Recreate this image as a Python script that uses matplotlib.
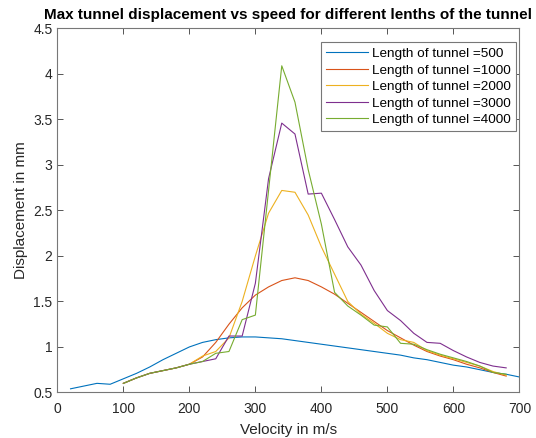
import matplotlib
matplotlib.use('Agg')
import matplotlib.pyplot as plt

plt.rcParams['font.family'] = ['Liberation Sans', 'DejaVu Sans']

# speed for the 500 m tunnel (m/s)
speed_500 = [20, 40, 60, 80, 100, 120, 140, 160, 180, 200, 220, 240, 260, 280, 300,
             320, 340, 360, 380, 400, 420, 440, 460, 480, 500, 520, 540, 560, 580, 600,
             620, 640, 660, 680, 700]
disp_500 = [0.54, 0.57, 0.60, 0.59, 0.65, 0.71, 0.78, 0.86, 0.93, 1.00, 1.05, 1.08, 1.10, 1.11, 1.11,
            1.10, 1.09, 1.07, 1.05, 1.03, 1.01, 0.99, 0.97, 0.95, 0.93, 0.91, 0.88, 0.86, 0.83, 0.80,
            0.78, 0.75, 0.72, 0.70, 0.67]

# speed for the longer tunnels (m/s)
speed = [100, 120, 140, 160, 180, 200, 220, 240, 260, 280, 300, 320, 340, 360, 380,
         400, 420, 440, 460, 480, 500, 520, 540, 560, 580, 600, 620, 640, 660, 680]
disp_1000 = [0.60, 0.66, 0.71, 0.74, 0.77, 0.81, 0.89, 1.05, 1.25, 1.43, 1.57, 1.66, 1.73, 1.76, 1.73,
             1.66, 1.58, 1.48, 1.38, 1.28, 1.18, 1.10, 1.02, 0.95, 0.90, 0.86, 0.81, 0.77, 0.72, 0.68]
disp_2000 = [0.60, 0.66, 0.71, 0.74, 0.77, 0.81, 0.90, 0.95, 1.10, 1.50, 2.00, 2.47, 2.72, 2.70, 2.45,
             2.10, 1.80, 1.50, 1.36, 1.26, 1.15, 1.08, 1.05, 0.96, 0.91, 0.87, 0.83, 0.79, 0.73, 0.69]
disp_3000 = [0.60, 0.66, 0.71, 0.74, 0.77, 0.81, 0.84, 0.87, 1.12, 1.12, 1.70, 2.85, 3.46, 3.34, 2.68,
             2.69, 2.40, 2.10, 1.90, 1.62, 1.40, 1.29, 1.15, 1.05, 1.04, 0.96, 0.89, 0.83, 0.79, 0.77]
disp_4000 = [0.60, 0.66, 0.71, 0.74, 0.77, 0.81, 0.84, 0.93, 0.95, 1.30, 1.35, 2.72, 4.09, 3.69, 2.95,
             2.35, 1.60, 1.45, 1.35, 1.24, 1.22, 1.04, 1.03, 0.97, 0.92, 0.88, 0.84, 0.79, 0.72, 0.70]

lengths = [500, 1000, 2000, 3000, 4000]
colors = ['#0072BD', '#D95319', '#EDB120', '#7E2F8E', '#77AC30']


def main():
    fig = plt.figure(figsize=(5.36, 4.38), dpi=100)
    ax = fig.add_axes([0.107, 0.104, 0.862, 0.831])

    series = [(speed_500, disp_500), (speed, disp_1000), (speed, disp_2000),
              (speed, disp_3000), (speed, disp_4000)]
    for (xs, ys), n, c in zip(series, lengths, colors):
        ax.plot(xs, ys, color=c, lw=0.8, label=f'Length of tunnel ={n}')

    ax.set_xlim(0, 700)
    ax.set_ylim(0.5, 4.5)
    ax.set_xticks(range(0, 701, 100))
    ax.set_yticks([0.5, 1, 1.5, 2, 2.5, 3, 3.5, 4, 4.5])
    ax.set_yticklabels(['0.5', '1', '1.5', '2', '2.5', '3', '3.5', '4', '4.5'])
    ax.tick_params(direction='in', top=True, right=True, length=4, width=0.7,
                   color='#555555', labelsize=10, labelcolor='#262626')
    ax.tick_params(axis='x', pad=7)
    for s in ax.spines.values():
        s.set_color('#777777')
        s.set_linewidth(0.8)

    ax.set_xlabel('Velocity in m/s', fontsize=11, color='#262626', labelpad=5)
    ax.set_ylabel('Displacement in mm', fontsize=11, color='#262626')
    ax.set_title('Max tunnel displacement vs speed for different lenths of the tunnel',
                 fontsize=11, fontweight='bold', pad=7)

    leg = ax.legend(loc='upper right', fontsize=9.7, handlelength=3.1, borderpad=0.4,
                    labelspacing=0.3, handletextpad=0.3, fancybox=False, framealpha=1,
                    borderaxespad=0, bbox_to_anchor=(0.993, 0.962))
    leg.get_frame().set_edgecolor('#777777')
    leg.get_frame().set_linewidth(0.8)

    fig.savefig('out.png', dpi=100)


if __name__ == '__main__':
    main()
